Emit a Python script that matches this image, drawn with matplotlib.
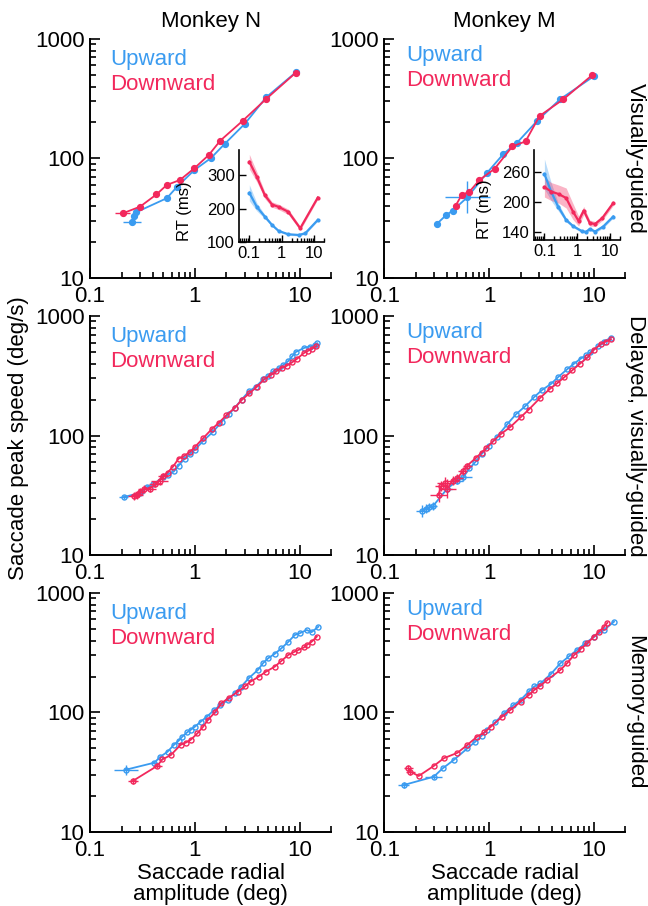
import numpy as np

from matplotlib import pyplot as plt
from matplotlib.ticker import LogLocator, NullFormatter, NullLocator

plt.rcParams['font.family'] = ['Liberation Sans', 'DejaVu Sans']

BLUE = '#3a9bf0'
RED = '#f2285c'

# Visually-guided, monkey N (amplitude deg, peak speed deg/s)
n_vis_up_amp = [0.25, 0.26, 0.276, 0.54, 0.67, 0.99, 1.43, 1.92, 3.0, 4.8, 9.3]
n_vis_up_speed = [29.6, 33, 35.5, 46.5, 57.4, 80, 101, 132, 195, 325, 530]
n_vis_dn_amp = [0.206, 0.30, 0.43, 0.54, 0.72, 0.99, 1.36, 1.75, 2.87, 4.8, 9.2]
n_vis_dn_speed = [34.8, 39.5, 50, 60, 66, 82.8, 107, 141, 207, 315, 522]

# Visually-guided, monkey M
m_vis_up_amp = [0.32, 0.39, 0.45, 0.62, 0.96, 1.37, 1.86, 2.89, 4.77, 10.1]
m_vis_up_speed = [28.5, 33.6, 36.6, 47.3, 76, 109, 136, 207, 313, 490]
m_vis_dn_amp = [0.48, 0.55, 0.65, 0.81, 1.13, 1.67, 2.23, 3.04, 5.13, 9.7]
m_vis_dn_speed = [40.3, 49.6, 52.7, 66, 82, 126, 139, 227, 313, 500]

# Delayed, visually-guided, monkey N
n_del_up_amp = [0.21, 0.30, 0.35, 0.40, 0.50, 0.55, 0.63, 0.70, 0.80, 0.90, 1.0,
                1.2, 1.5, 1.8, 2.1, 2.4, 2.8, 3.3, 3.8, 4.5, 5.0, 5.6, 6.3, 7.0,
                7.8, 8.5, 9.2, 11.0, 12.5, 14.0, 14.8]
n_del_up_speed = [30.6, 33, 37, 39, 45, 47, 50, 56, 64, 70, 76,
                  90, 108, 130, 150, 170, 200, 235, 255, 295, 315, 345, 365, 390,
                  420, 460, 500, 540, 555, 570, 590]
n_del_dn_amp = [0.26, 0.28, 0.30, 0.33, 0.37, 0.42, 0.46, 0.50, 0.55, 0.62, 0.70,
                0.78, 0.90, 1.0, 1.2, 1.45, 1.7, 2.0, 2.4, 2.8, 3.3, 3.9, 4.6, 5.3,
                6.0, 6.8, 7.6, 8.5, 9.5, 11.0, 12.0, 13.0, 14.5]
n_del_dn_speed = [31, 32, 34, 36, 36, 39, 42, 46, 49, 55, 64,
                  67, 73, 80, 95, 113, 128, 148, 170, 198, 225, 255, 295, 320,
                  345, 370, 385, 410, 440, 490, 510, 530, 560]

# Delayed, visually-guided, monkey M
m_del_up_amp = [0.23, 0.25, 0.27, 0.29, 0.40, 0.50, 0.57, 0.65, 0.74, 0.85, 1.0,
                1.2, 1.5, 1.8, 2.2, 2.7, 3.2, 3.9, 4.6, 5.6, 6.5, 7.5, 8.5, 9.3,
                11.0, 12.5, 14.6]
m_del_up_speed = [23.5, 24.5, 25, 25.5, 36, 42, 45, 53, 60, 70, 82,
                  98, 125, 150, 175, 210, 240, 270, 310, 360, 400, 440, 470, 500,
                  560, 610, 660]
m_del_dn_amp = [0.33, 0.35, 0.38, 0.40, 0.45, 0.50, 0.56, 0.62, 0.75, 0.85, 0.93,
                1.1, 1.3, 1.6, 2.0, 2.4, 3.1, 3.8, 4.5, 5.2, 6.2, 7.4, 8.7, 10.0,
                11.6, 13.0, 14.6]
m_del_dn_speed = [32, 38, 40, 36, 42, 44, 50, 56, 65, 72, 78,
                  90, 103, 118, 142, 165, 208, 245, 275, 306, 350, 400, 450, 520,
                  580, 610, 640]

# Memory-guided, monkey N
n_mem_up_amp = [0.22, 0.41, 0.47, 0.55, 0.63, 0.70, 0.76, 0.84, 0.91, 1.0, 1.14,
                1.3, 1.53, 1.75, 2.06, 2.4, 2.76, 3.3, 4.0, 4.5, 5.0, 5.8, 6.7,
                7.8, 9.0, 10.0, 11.7, 13.0, 15.1]
n_mem_up_speed = [33.2, 38, 42.7, 47, 53.5, 58, 62.8, 68, 71.4, 76, 83.8,
                  92, 105, 115, 127, 145, 164, 195, 227, 260, 284, 310, 344,
                  390, 445, 460, 490, 470, 522]
n_mem_dn_amp = [0.257, 0.437, 0.49, 0.59, 0.73, 0.82, 0.91, 1.06, 1.2, 1.33, 1.55,
                1.78, 2.1, 2.57, 3.0, 3.4, 4.1, 4.8, 5.8, 6.7, 7.8, 8.8, 9.7, 11.0,
                11.7, 13.0, 14.6]
n_mem_dn_speed = [26.8, 35.7, 40.5, 44, 53.5, 56, 58.9, 67, 76, 86.5, 100,
                  119, 132, 149, 165, 181, 200, 220, 242, 270, 303, 320, 333, 350,
                  367, 390, 431]

# Memory-guided, monkey M
m_mem_up_amp = [0.153, 0.297, 0.36, 0.46, 0.62, 0.74, 0.85, 0.96, 1.15, 1.39, 1.7,
                2.0, 2.4, 2.7, 3.1, 3.9, 4.8, 5.8, 6.9, 8.3, 10.1, 12.5, 15.6]
m_mem_up_speed = [24.7, 29, 34, 40, 50, 57, 64, 72, 83, 98.5, 115,
                  127, 150, 165, 175, 210, 258, 295, 333, 380, 430, 490, 575]
m_mem_dn_amp = [0.17, 0.177, 0.213, 0.297, 0.37, 0.5, 0.62, 0.77, 0.9, 1.04, 1.33,
                1.6, 2.0, 2.4, 2.7, 3.1, 3.6, 4.8, 5.6, 6.5, 7.5, 8.7, 10.0, 11.2,
                12.5, 13.5]
m_mem_dn_speed = [34, 32, 29.4, 35.7, 41.4, 46, 53.5, 62.8, 68, 76, 92,
                  105, 123, 140, 154, 168, 187, 227, 260, 303, 340, 380, 430, 474,
                  520, 564]

# Error bars of the first points of each series, as geometric factors
n_vis_up_xf, n_vis_up_yf = [1.22, 1.04], [1.03, 1.03]
n_vis_dn_xf, n_vis_dn_yf = [1.18], [1.03]
m_vis_up_xf, m_vis_up_yf = [1.06, 1.05, 1.05, 1.64], [1.04, 1.04, 1.04, 1.36]
m_vis_dn_xf, m_vis_dn_yf = [1.05, 1.06], [1.04, 1.05]
n_del_up_xf, n_del_up_yf = [1.1, 1.08, 1.08], [1.04, 1.04, 1.04]
n_del_dn_xf, n_del_dn_yf = [1.12, 1.15, 1.12, 1.15, 1.15, 1.15, 1.2, 1.12], \
    [1.08, 1.08, 1.08, 1.08, 1.06, 1.06, 1.08, 1.06]
m_del_up_xf, m_del_up_yf = [1.15, 1.1, 1.1, 1.1, 1.1, 1.12, 1.2], \
    [1.12, 1.1, 1.08, 1.08, 1.06, 1.06, 1.08]
m_del_dn_xf, m_del_dn_yf = [1.2, 1.15, 1.2, 1.2, 1.15, 1.12, 1.1, 1.1], \
    [1.15, 1.1, 1.12, 1.2, 1.1, 1.08, 1.08, 1.06]
n_mem_up_xf, n_mem_up_yf = [1.3, 1.06], [1.1, 1.03]
n_mem_dn_xf, n_mem_dn_yf = [1.12, 1.1], [1.06, 1.05]
m_mem_up_xf, m_mem_up_yf = [1.12, 1.2], [1.06, 1.05]
m_mem_dn_xf, m_mem_dn_yf = [1.1, 1.1], [1.06, 1.06]

# Reaction times for visually-guided saccades (inset): amplitude, mean, band half-width
n_rt_dn_amp = [0.1, 0.17, 0.3, 0.5, 0.8, 1.6, 3.7, 12.9]
n_rt_dn = [340, 295, 240, 212, 205, 190, 141, 233]
n_rt_dn_sem = [22, 15, 10, 8, 8, 8, 6, 5]
n_rt_up_amp = [0.1, 0.17, 0.3, 0.5, 0.8, 1.6, 3.3, 5.3, 12.9]
n_rt_up = [247, 205, 176, 151, 133, 123, 121, 126, 166]
n_rt_up_sem = [24, 12, 6, 4, 3, 3, 3, 3, 3]

m_rt_dn_amp = [0.1, 0.16, 0.27, 0.46, 0.74, 1.1, 1.58, 2.4, 3.5, 5.8, 12.5]
m_rt_dn = [229, 220, 215, 207, 180, 161, 182, 157, 155, 167, 197]
m_rt_dn_sem = [20, 18, 18, 20, 16, 10, 8, 6, 5, 5, 5]
m_rt_up_amp = [0.1, 0.16, 0.26, 0.46, 0.74, 1.35, 1.83, 2.4, 3.5, 6.2, 12.5]
m_rt_up = [255, 220, 190, 163, 151, 141, 139, 145, 140, 150, 170]
m_rt_up_sem = [30, 18, 8, 4, 3, 3, 3, 3, 3, 3, 3]

row_names = ['Visually-guided', 'Delayed, visually-guided', 'Memory-guided']
col_names = ['Monkey N', 'Monkey M']


def draw_series(ax, amp, speed, color, xfac, yfac, hollow):
    amp = np.asarray(amp, dtype=float)
    speed = np.asarray(speed, dtype=float)
    ax.plot(amp, speed, '-', color=color, lw=1.3, marker='o',
            ms=3.6 if hollow else 4.2, mfc='none' if hollow else color,
            mec=color, mew=1.0, zorder=3)
    k = len(xfac)
    xs, ys = amp[:k], speed[:k]
    xf, yf = np.asarray(xfac), np.asarray(yfac)
    ax.errorbar(xs, ys, xerr=[xs - xs / xf, xs * xf - xs],
                yerr=[ys - ys / yf, ys * yf - ys], fmt='none',
                ecolor=color, elinewidth=1.0, capsize=0, zorder=3)


def style_main(ax):
    ax.set_xscale('log')
    ax.set_yscale('log')
    ax.set_xlim(0.1, 20)
    ax.set_ylim(10, 1000)
    ax.set_xticks([0.1, 1, 10])
    ax.set_xticklabels(['0.1', '1', '10'])
    ax.set_yticks([10, 100, 1000])
    ax.set_yticklabels(['10', '100', '1000'])
    for axis in (ax.xaxis, ax.yaxis):
        axis.set_minor_locator(LogLocator(base=10, subs=np.arange(2, 10)))
        axis.set_minor_formatter(NullFormatter())
    ax.spines[['top', 'right']].set_visible(False)
    ax.spines[['left', 'bottom']].set_linewidth(1.4)
    ax.tick_params(which='both', direction='in', width=1.2, labelsize=16)
    ax.tick_params(which='major', length=7)
    ax.tick_params(which='minor', length=4)
    ax.tick_params(axis='x', which='major', pad=6)
    ax.tick_params(axis='y', which='major', pad=4)


def draw_inset(ax, up_amp, up, up_sem, dn_amp, dn, dn_sem, yticks, ylim):
    for amp, rt, sem, color in ((up_amp, up, up_sem, BLUE),
                                (dn_amp, dn, dn_sem, RED)):
        rt = np.asarray(rt, dtype=float)
        sem = np.asarray(sem, dtype=float)
        ax.fill_between(amp, rt - sem, rt + sem, color=color, alpha=0.35, lw=0)
        ax.plot(amp, rt, '-', color=color, lw=1.6, marker='o', ms=2)
    ax.set_xscale('log')
    ax.set_xlim(0.048, 20)
    ax.set_ylim(*ylim)
    ax.set_xticks([0.1, 1, 10])
    ax.set_xticklabels(['0.1', '1', '10'])
    ax.xaxis.set_minor_locator(LogLocator(base=10, subs=np.arange(2, 10)))
    ax.xaxis.set_minor_formatter(NullFormatter())
    ax.set_yticks(yticks)
    ax.yaxis.set_minor_locator(NullLocator())
    ax.patch.set_alpha(0)
    ax.spines[['top', 'right']].set_visible(False)
    ax.spines[['left', 'bottom']].set_linewidth(1.2)
    ax.tick_params(which='both', direction='in', width=1.0, labelsize=12)
    ax.tick_params(which='major', length=5, pad=3)
    ax.tick_params(which='minor', length=3)
    ax.set_ylabel('RT (ms)', fontsize=12, labelpad=0)


if __name__ == "__main__":
    fig = plt.figure(figsize=(6.48, 9.06), dpi=100)

    panels = [
        [(n_vis_up_amp, n_vis_up_speed, n_vis_up_xf, n_vis_up_yf,
          n_vis_dn_amp, n_vis_dn_speed, n_vis_dn_xf, n_vis_dn_yf),
         (m_vis_up_amp, m_vis_up_speed, m_vis_up_xf, m_vis_up_yf,
          m_vis_dn_amp, m_vis_dn_speed, m_vis_dn_xf, m_vis_dn_yf)],
        [(n_del_up_amp, n_del_up_speed, n_del_up_xf, n_del_up_yf,
          n_del_dn_amp, n_del_dn_speed, n_del_dn_xf, n_del_dn_yf),
         (m_del_up_amp, m_del_up_speed, m_del_up_xf, m_del_up_yf,
          m_del_dn_amp, m_del_dn_speed, m_del_dn_xf, m_del_dn_yf)],
        [(n_mem_up_amp, n_mem_up_speed, n_mem_up_xf, n_mem_up_yf,
          n_mem_dn_amp, n_mem_dn_speed, n_mem_dn_xf, n_mem_dn_yf),
         (m_mem_up_amp, m_mem_up_speed, m_mem_up_xf, m_mem_up_yf,
          m_mem_dn_amp, m_mem_dn_speed, m_mem_dn_xf, m_mem_dn_yf)],
    ]

    lefts = [0.139, 0.593]
    bottoms = [0.6932, 0.3874, 0.0817]
    width, height = 0.372, 0.2638
    legend_pos = [(0.083, 0.915, 0.81), (0.09, 0.93, 0.825)]

    for r, row in enumerate(panels):
        for c, (ua, us, uxf, uyf, da, ds, dxf, dyf) in enumerate(row):
            ax = fig.add_axes([lefts[c], bottoms[r], width, height])
            draw_series(ax, ua, us, BLUE, uxf, uyf, hollow=r > 0)
            draw_series(ax, da, ds, RED, dxf, dyf, hollow=r > 0)
            style_main(ax)
            lx, uy, dy = legend_pos[c]
            ax.text(lx, uy, 'Upward', color=BLUE, fontsize=16,
                    transform=ax.transAxes, va='center')
            ax.text(lx, dy, 'Downward', color=RED, fontsize=16,
                    transform=ax.transAxes, va='center')

        fig.text(0.98, bottoms[r] + height / 2, row_names[r], rotation=-90,
                 ha='center', va='center', fontsize=16)

    for c, name in enumerate(col_names):
        cx = lefts[c] + width / 2
        fig.text(cx, 1 - 21 / 906, name, ha='center', va='center', fontsize=16)
        fig.text(cx, 1 - 884 / 906, 'Saccade radial\namplitude (deg)',
                 ha='center', va='center', fontsize=16, linespacing=0.95)

    fig.text(19 / 648, 1 - 438 / 906, 'Saccade peak speed (deg/s)',
             rotation=90, ha='center', va='center', fontsize=16)

    ins_n = fig.add_axes([0.3688, 0.7329, 0.1312, 0.1015])
    draw_inset(ins_n, n_rt_up_amp, n_rt_up, n_rt_up_sem,
               n_rt_dn_amp, n_rt_dn, n_rt_dn_sem, [100, 200, 300], (100, 375))
    ins_n.yaxis.set_label_coords(-0.55, 0.34)

    ins_m = fig.add_axes([0.824, 0.7351, 0.1327, 0.0993])
    draw_inset(ins_m, m_rt_up_amp, m_rt_up, m_rt_up_sem,
               m_rt_dn_amp, m_rt_dn, m_rt_dn_sem, [140, 200, 260], (123, 303))
    ins_m.yaxis.set_label_coords(-0.49, 0.34)

    plt.savefig("out.png", dpi=100)
